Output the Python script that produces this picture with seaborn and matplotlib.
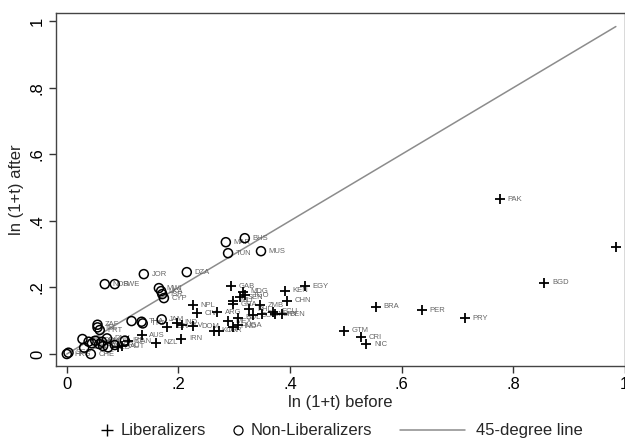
import matplotlib
matplotlib.use("Agg")
import matplotlib.pyplot as plt
from matplotlib.lines import Line2D
import seaborn as sns
import pandas as pd

# ---- data -------------------------------------------------------------
lib_codes = ["PAK", "", "BGD", "PRY", "PER", "BRA", "GTM", "CRI", "NIC",
             "EGY", "KEN", "CHN", "GAB", "MDG", "TGO", "SEN", "MLI", "GHA",
             "PHL", "ZMB", "COL", "VEN", "ECU", "URY", "BEN", "NPL", "CIV",
             "ARG", "MEX", "BOL", "UGA", "HND", "KOR", "TUR", "IDN", "IND",
             "SLV", "DOM", "IRN", "NZL", "AUS", "CAN", "AUT", ""]
lib_before = [0.776, 0.984, 0.856, 0.713, 0.636, 0.554, 0.497, 0.527, 0.537,
              0.427, 0.391, 0.394, 0.294, 0.316, 0.319, 0.310, 0.298, 0.297,
              0.327, 0.346, 0.334, 0.349, 0.370, 0.373, 0.385, 0.226, 0.233,
              0.270, 0.289, 0.306, 0.307, 0.298, 0.264, 0.273, 0.180, 0.197,
              0.206, 0.227, 0.205, 0.160, 0.134, 0.110, 0.099, 0.092]
lib_after = [0.465, 0.322, 0.214, 0.107, 0.132, 0.142, 0.070, 0.050, 0.030,
             0.204, 0.190, 0.160, 0.204, 0.187, 0.177, 0.170, 0.160, 0.150,
             0.134, 0.147, 0.117, 0.120, 0.127, 0.120, 0.120, 0.147, 0.122,
             0.125, 0.099, 0.109, 0.087, 0.082, 0.070, 0.070, 0.082, 0.094,
             0.087, 0.084, 0.046, 0.034, 0.057, 0.039, 0.024, 0.021]

non_codes = ["MAR", "TUN", "BHS", "MUS", "JOR", "DZA", "NOR", "SWE", "MWI",
             "LKA", "ISR", "CYP", "", "THA", "TTO", "JAM", "ZAF", "ISL",
             "HKG", "SGP", "CHE", "USA", "JPN", "GBR", "FRA", "DEU", "ITA",
             "ESP", "NLD", "BEL", "DNK", "IRL", "GRC", "PRT"]
non_before = [0.285, 0.289, 0.319, 0.348, 0.138, 0.215, 0.068, 0.086, 0.165,
              0.169, 0.171, 0.174, 0.116, 0.134, 0.136, 0.170, 0.055, 0.055,
              0.000, 0.003, 0.043, 0.031, 0.028, 0.045, 0.039, 0.051, 0.063,
              0.065, 0.074, 0.058, 0.072, 0.104, 0.086, 0.059]
non_after = [0.336, 0.303, 0.348, 0.309, 0.240, 0.246, 0.210, 0.210, 0.198,
             0.189, 0.180, 0.168, 0.099, 0.097, 0.092, 0.104, 0.088, 0.080,
             0.000, 0.004, 0.000, 0.019, 0.045, 0.032, 0.037, 0.040, 0.037,
             0.024, 0.020, 0.030, 0.047, 0.040, 0.027, 0.072]

x_ticks = [0, 0.2, 0.4, 0.6, 0.8, 1.0]
tick_labels = ["0", ".2", ".4", ".6", ".8", "1"]

lib = pd.DataFrame({"code": lib_codes, "before": lib_before, "after": lib_after})
non = pd.DataFrame({"code": non_codes, "before": non_before, "after": non_after})
all_before = lib_before + non_before
diag = pd.DataFrame({"x": [min(all_before), max(all_before)]})
diag["y"] = diag["x"]

# ---- style ------------------------------------------------------------
sns.set_theme(style="white")
plt.rcParams["font.family"] = ["Liberation Sans", "DejaVu Sans"]

fig = plt.figure(figsize=(6.25, 4.44), dpi=100)
ax = fig.add_axes([0.0896, 0.1757, 0.9104, 0.796])

sns.lineplot(data=diag, x="x", y="y", ax=ax, color="#8c8c8c", linewidth=1.1,
             legend=False, zorder=1)
sns.scatterplot(data=non, x="before", y="after", ax=ax, marker="o", s=42,
                facecolors="none", edgecolor="black", linewidth=1.1,
                legend=False, zorder=3)
sns.scatterplot(data=lib, x="before", y="after", ax=ax, marker="+", s=45,
                color="black", linewidth=1.3, legend=False, zorder=3)

for df in (lib, non):
    for c, xv, yv in zip(df["code"], df["before"], df["after"]):
        if c:
            ax.annotate(c, (xv, yv), xytext=(5.5, 0), textcoords="offset points",
                        fontsize=5.5, color="#666666", va="center", ha="left",
                        zorder=2)

ax.set_xlim(-0.0194, 1.0004)
ax.set_ylim(-0.036, 1.026)
ax.set_xticks(x_ticks)
ax.set_xticklabels(tick_labels)
ax.set_yticks(x_ticks)
ax.set_yticklabels(tick_labels, rotation=90, va="center")
ax.tick_params(axis="both", direction="out", length=5, width=1, color="#333333",
               labelsize=12, labelcolor="black", pad=3)
ax.tick_params(axis="both", which="both", bottom=True, left=True)
for sp in ax.spines.values():
    sp.set_color("#444444")
    sp.set_linewidth(1.0)
ax.set_xlabel("ln (1+t) before", fontsize=12, labelpad=2)
ax.set_ylabel("ln (1+t) after", fontsize=12, labelpad=4)

# ---- legend (manual, Stata-style) --------------------------------------
ly = 1 - 430 / 444
W = 625.0
fig.add_artist(Line2D([107 / W], [ly], marker="+", color="black", markersize=8,
                      markeredgewidth=1.0, transform=fig.transFigure))
fig.text(121 / W, ly, "Liberalizers", fontsize=12, va="center", ha="left")
fig.add_artist(Line2D([238 / W], [ly], marker="o", markerfacecolor="none",
                      markeredgecolor="black", markersize=6.5, markeredgewidth=0.9,
                      transform=fig.transFigure))
fig.text(251 / W, ly, "Non-Liberalizers", fontsize=12, va="center", ha="left")
fig.add_artist(Line2D([400 / W, 465 / W], [ly, ly], color="#8c8c8c", linewidth=1.1,
                      transform=fig.transFigure))
fig.text(476 / W, ly, "45-degree line", fontsize=12, va="center", ha="left")

fig.savefig("out.png", dpi=100)
